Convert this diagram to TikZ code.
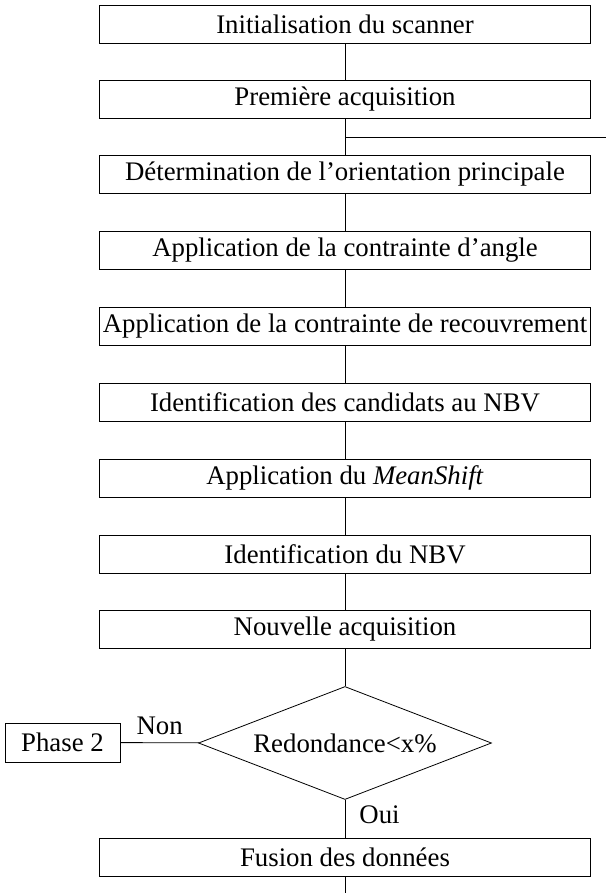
\documentclass[tikz,border=0pt]{standalone}
\usepackage{fontspec}
\setmainfont{Liberation Serif}
\usetikzlibrary{shapes.geometric,positioning}
\begin{document}
\begin{tikzpicture}[x=0.5pt,y=0.5pt,
  etape/.style={draw,minimum width=245.5pt,minimum height=19pt,inner sep=1pt,font=\fontsize{13.4}{15}\selectfont},
  petite/.style={draw,minimum width=57.5pt,minimum height=19.5pt,inner sep=1pt,font=\fontsize{13.4}{15}\selectfont},
  test/.style={draw,diamond,aspect=2.6,minimum width=146.5pt,minimum height=56.5pt,inner sep=0pt,font=\fontsize{13.4}{15}\selectfont},
  etiq/.style={font=\fontsize{13.4}{15}\selectfont,inner sep=1pt}]
\useasboundingbox (0,0) rectangle (606,-893);
\node[etape] (init) at (345,-24) {Initialisation du scanner};
\node[etape] (acq1) at (345,-99) {Première acquisition};
\node[etape] (orient) at (345,-174) {Détermination de l'orientation principale};
\node[etape] (angle) at (345,-250) {Application de la contrainte d'angle};
\node[etape] (recouv) at (345,-326) {Application de la contrainte de recouvrement};
\node[etape] (cand) at (345,-402) {Identification des candidats au NBV};
\node[etape] (mshift) at (345,-478) {Application du \textit{MeanShift}};
\node[etape] (nbv) at (345,-554) {Identification du NBV};
\node[etape] (acqn) at (345,-629) {Nouvelle acquisition};
\node[test] (redond) at (345,-743) {Redondance<x\%};
\node[petite] (phase) at (62.5,-742.5) {Phase 2};
\node[etape] (fusion) at (345,-857) {Fusion des données};
\coordinate (retour) at (606,-137);
\coordinate (fin) at (345,-893);
\draw (init) -- (acq1);
\draw (acq1) -- (orient);
\draw (acq1.south |- retour) -- (retour);
\draw (orient) -- (angle);
\draw (angle) -- (recouv);
\draw (recouv) -- (cand);
\draw (cand) -- (mshift);
\draw (mshift) -- (nbv);
\draw (nbv) -- (acqn);
\draw (acqn) -- (redond);
\draw (redond) -- node[etiq,above=3pt,pos=0.5]{Non} (phase);
\draw (redond) -- node[etiq,right=6pt,pos=0.4]{Oui} (fusion);
\draw (fusion) -- (fin);
\end{tikzpicture}
\end{document}
